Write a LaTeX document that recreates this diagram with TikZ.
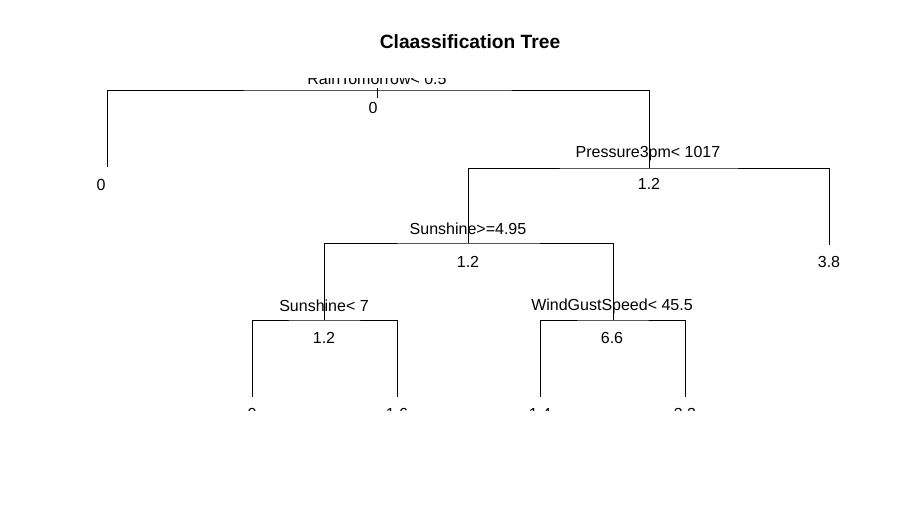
\documentclass[tikz,border=0pt]{standalone}
\usepackage{fontspec}
\setmainfont{Liberation Sans}

\begin{document}
\begin{tikzpicture}[
    x = 1pt, y = -1pt,
    line width = 0.9pt,
    every node/.style = {font = \fontsize{16}{19}\selectfont, inner sep = 0pt, anchor = base},
    title/.style = {font = \fontsize{19.2}{23}\selectfont\bfseries}]

\useasboundingbox (0,0) rectangle (899,507);
\path (470,48) node[title](title) {Claassification Tree};

\begin{scope}
\clip (0,78) rectangle (899,410);
\coordinate (rain) at (377,90);
\coordinate (raintop) at (377,88);
\coordinate (rainbot) at (377,98);
\coordinate (pres) at (649,168);
\coordinate (sunA) at (468,243);
\coordinate (sunB) at (324,320);
\coordinate (wind) at (613,320);
\coordinate (leafA) at (107,167);
\coordinate (leafB) at (829,245);
\coordinate (leafC) at (252,397);
\coordinate (leafD) at (397,397);
\coordinate (leafE) at (540,397);
\coordinate (leafF) at (685,397);

\draw (raintop) -- (rainbot);
\draw (leafA) |- (rain) -| (pres);
\draw (sunA) |- (pres) -| (leafB);
\draw (sunB) |- (sunA) -| (wind);
\draw (leafC) |- (sunB) -| (leafD);
\draw (leafE) |- (wind) -| (leafF);

\path (377,84.5) node(rainlab) {RainTomorrow< 0.5}
      (373,113.5) node(rainval) {0}
      (648,157) node(preslab) {Pressure3pm< 1017}
      (649,189.5) node(presval) {1.2}
      (468,234.5) node(sunAlab) {Sunshine>=4.95}
      (468,267.5) node(sunAval) {1.2}
      (324,311.5) node(sunBlab) {Sunshine< 7}
      (324,343) node(sunBval) {1.2}
      (612,310.5) node(windlab) {WindGustSpeed< 45.5}
      (612,343) node(windval) {6.6}
      (101,190.5) node(leafAval) {0}
      (829,267.5) node(leafBval) {3.8}
      (252,419.5) node(leafCval) {0}
      (397,419.5) node(leafDval) {1.6}
      (540,419.5) node(leafEval) {1.4}
      (685,419.5) node(leafFval) {3.3}
      ;
\end{scope}
\end{tikzpicture}
\end{document}
